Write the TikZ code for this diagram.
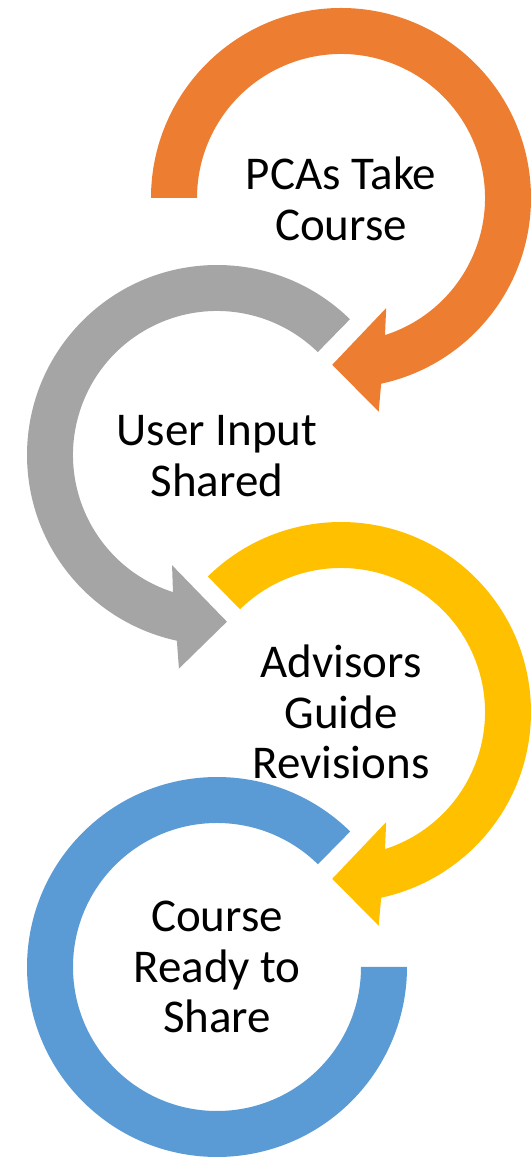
\documentclass[tikz,border=0pt]{standalone}
\usepackage{fontspec}
\setmainfont{Carlito}
\definecolor{cOrange}{HTML}{ED7D31}
\definecolor{cGray}{HTML}{A5A5A5}
\definecolor{cYellow}{HTML}{FFC000}
\definecolor{cBlue}{HTML}{5B9BD5}
\begin{document}
\begin{tikzpicture}[x=1pt,y=1pt,
  lbl/.style={align=center, font=\fontsize{47}{50.5}\selectfont, inner sep=0pt, text=black}]
\useasboundingbox (0,0) rectangle (530,1159);
\coordinate (oc) at (341,961);
\coordinate (gc) at (217,704);
\coordinate (yc) at (341,447);
\coordinate (bc) at (217,192);
% orange
\fill[cOrange] ([shift={(oc)}]180:190) arc[start angle=180,end angle=-77.8,radius=190]
  -- ([shift={(oc)}]-80:217) -- ([shift={(oc)}]-93:167) -- ([shift={(oc)}]-67.7:119)
  -- ([shift={(oc)}]-72.2:144) arc[start angle=-72.2,end angle=180,radius=144] -- cycle;
% gray
\fill[cGray] ([shift={(gc)}]45.6:190) arc[start angle=45.6,end angle=257.8,radius=190]
  -- ([shift={(gc)}]259.9:217) -- ([shift={(gc)}]273.4:167) -- ([shift={(gc)}]247.8:119)
  -- ([shift={(gc)}]252.2:144) arc[start angle=252.2,end angle=45.6,radius=144] -- cycle;
% yellow
\fill[cYellow] ([shift={(yc)}]134.5:190) arc[start angle=134.5,end angle=-77.8,radius=190]
  -- ([shift={(yc)}]-80:217) -- ([shift={(yc)}]-93:167) -- ([shift={(yc)}]-67.7:119)
  -- ([shift={(yc)}]-72.2:144) arc[start angle=-72.2,end angle=134.5,radius=144] -- cycle;
% blue
\fill[cBlue] ([shift={(bc)}]45.5:190) arc[start angle=45.5,end angle=360,radius=190]
  -- ([shift={(bc)}]0:144) arc[start angle=360,end angle=45.5,radius=144] -- cycle;
% labels
\node[lbl] (t1) at ([yshift=-1]oc) {PCAs Take\\Course};
\node[lbl] (t2) at ([yshift=-1]gc) {User Input\\Shared};
\node[lbl] (t3) at (yc) {Advisors\\Guide\\Revisions};
\node[lbl] (t4) at (bc) {Course\\Ready to\\Share};
\end{tikzpicture}
\end{document}
